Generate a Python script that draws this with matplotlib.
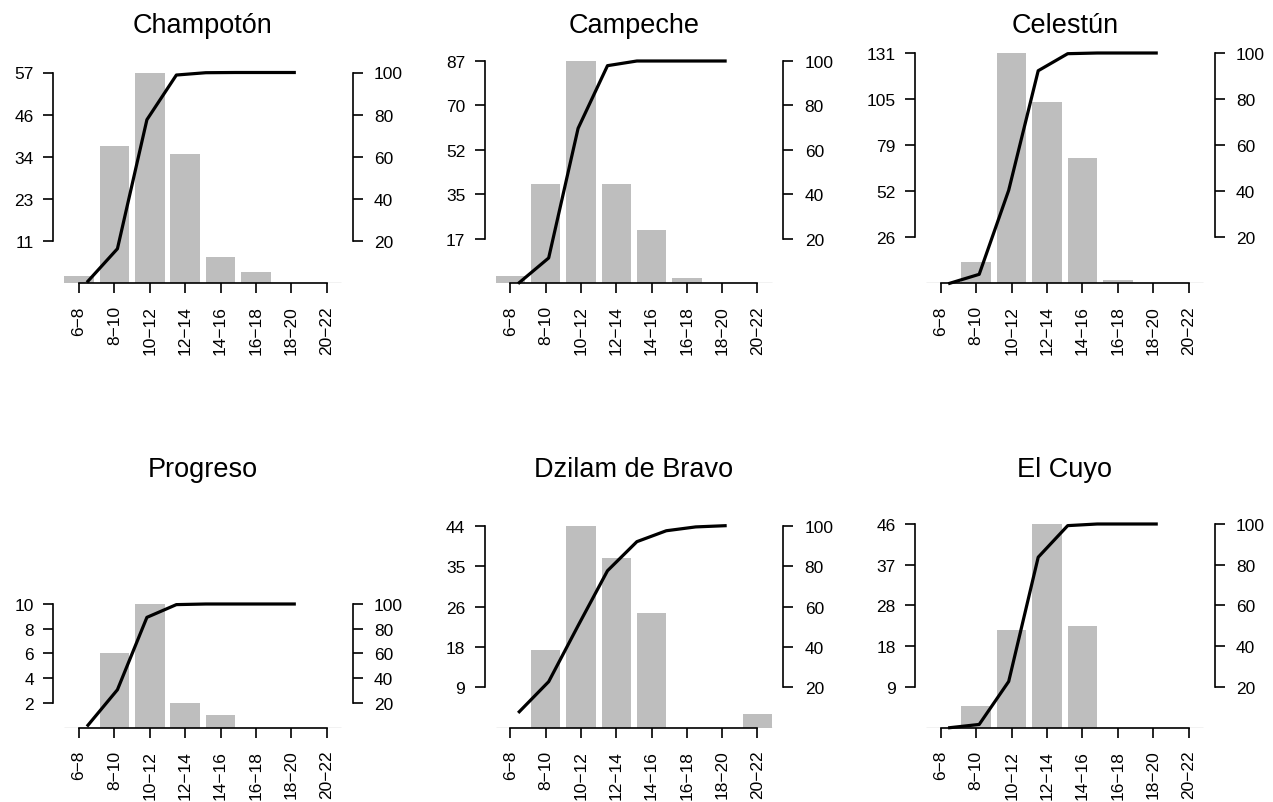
import numpy as np
import matplotlib.pyplot as plt

plt.rcParams['font.family'] = ['Liberation Sans', 'DejaVu Sans']
plt.rcParams['xtick.labelsize'] = 12.5
plt.rcParams['ytick.labelsize'] = 12.5

# size classes (cm) shared by every site
size_classes = ['6\u22128', '8\u221210', '10\u221212', '12\u221214',
                '14\u221216', '16\u221218', '18\u221220', '20\u221222']

sites = ['Champotón', 'Campeche', 'Celestún',
         'Progreso', 'Dzilam de Bravo', 'El Cuyo']

# frequencies per size class (bars)
champoton_counts = [2, 37, 57, 35, 7, 3, 0, 0]
campeche_counts = [3, 39, 87, 39, 21, 2, 0, 0]
celestun_counts = [0, 12, 131, 103, 71, 2, 0, 0]
progreso_counts = [0, 6, 10, 2, 1, 0, 0, 0]
dzilam_counts = [0, 17, 44, 37, 25, 0, 0, 3]
elcuyo_counts = [0, 5, 22, 46, 23, 0, 0, 0]

# cumulative percentage (line)
champoton_cum = [1, 16.4, 77.6, 98.8, 99.9, 100, 100, 100]
campeche_cum = [0.3, 11.4, 69.7, 97.9, 100, 100, 100, 100]
celestun_cum = [0, 3.9, 40.4, 92.3, 99.7, 100, 100, 100]
progreso_cum = [2, 30.7, 89.2, 99.5, 100, 100, 100, 100]
dzilam_cum = [7.9, 22.8, 50.5, 77.7, 92.1, 97.5, 99.4, 100]
elcuyo_cum = [0, 1.6, 22.7, 83.7, 99.2, 100, 100, 100]

counts = [champoton_counts, campeche_counts, celestun_counts,
          progreso_counts, dzilam_counts, elcuyo_counts]
cumulative = [champoton_cum, campeche_cum, celestun_cum,
              progreso_cum, dzilam_cum, elcuyo_cum]

W, H = 1273, 803
fig = plt.figure(figsize=(W / 100, H / 100), dpi=100)

# panel frames in pixels: left, right, baseline, top of max value
col_left = [53.3, 484.7, 915]
col_right = [352.5, 783.2, 1214.5]
row_base = [284.3, 728.7]
panel_top = [73.5, 62, 54, 605, 526.7, 525]
title_base = [32.7, 477]

bar_pos = 0.7 + 1.2 * np.arange(len(size_classes))
line_x = np.arange(1, len(size_classes) + 1)
bar_grey = '#bebebe'

for i in range(6):
    r, c = divmod(i, 3)
    left, right = col_left[c], col_right[c]
    base, top = row_base[r], panel_top[i]
    ax = fig.add_axes([left / W, 1 - base / H,
                       (right - left) / W, (base - top) / H])
    vals = counts[i]
    vmax = max(vals)
    ax.bar(bar_pos, vals, width=1, color=bar_grey, zorder=1)
    ax.hlines(0, bar_pos[0] - 0.5, bar_pos[-1] + 0.5, color=bar_grey,
              lw=1, zorder=1)
    ax.set_xlim(-0.176, 9.976)
    ax.set_ylim(0, vmax)
    yt = [vmax * k / 5 for k in range(1, 6)]
    ax.set_yticks(yt, [str(int(round(v))) for v in yt], fontsize=12.5)
    ax.set_xticks(bar_pos, size_classes, rotation=90, fontsize=12.5)
    for s in ['top', 'right']:
        ax.spines[s].set_visible(False)
    ax.spines['left'].set_bounds(yt[0], yt[-1])
    ax.spines['bottom'].set_bounds(bar_pos[0], bar_pos[-1])
    for s in ['left', 'bottom']:
        ax.spines[s].set_linewidth(1.2)
    ax.tick_params(length=7.5, width=1.2)
    ax.tick_params(axis='y', pad=6.5)
    ax.tick_params(axis='x', pad=8.3)
    ax.patch.set_visible(False)

    ax2 = ax.twinx()
    ax2.set_ylim(0, 100)
    ax2.plot(line_x, cumulative[i], color='black', lw=2.3, clip_on=False,
             zorder=3)
    ax2.set_yticks([20, 40, 60, 80, 100])
    for s in ['top', 'left', 'bottom']:
        ax2.spines[s].set_visible(False)
    ax2.spines['right'].set_bounds(20, 100)
    ax2.spines['right'].set_linewidth(1.2)
    ax2.tick_params(length=7.5, width=1.2, pad=8)

    fig.text((left + right) / 2 / W, 1 - title_base[r] / H, sites[i],
             ha='center', va='baseline', fontsize=19.5)

fig.savefig('out.png', dpi=100)
